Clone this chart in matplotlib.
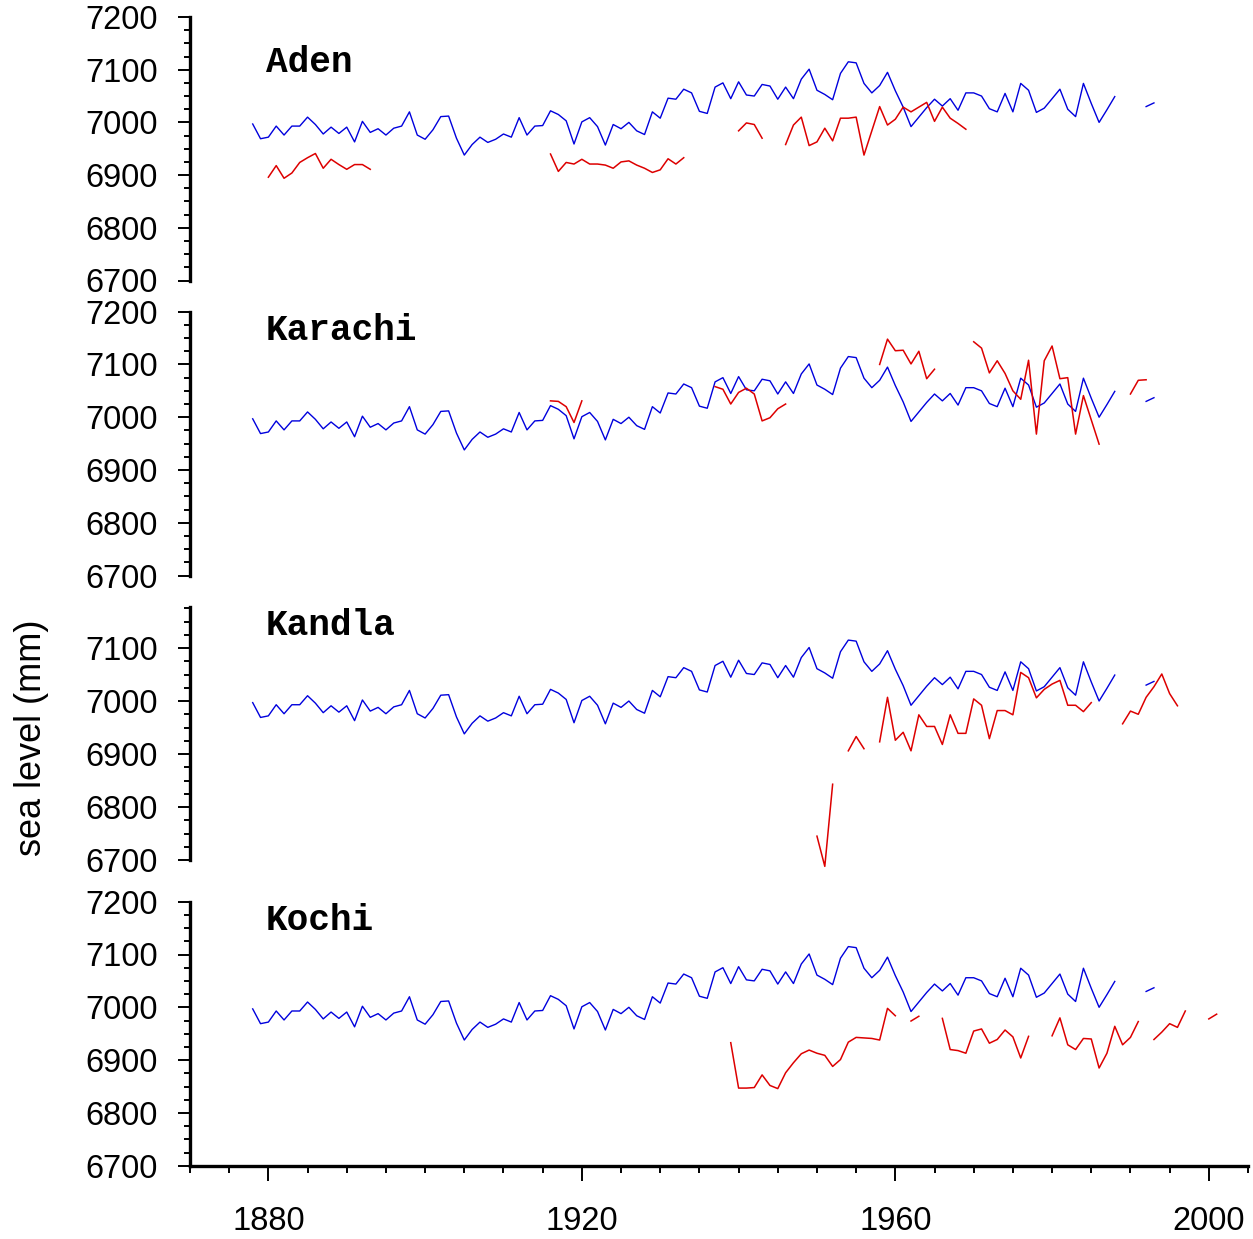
import numpy as np
import matplotlib.pyplot as plt
from matplotlib.ticker import MultipleLocator

plt.rcParams['font.family'] = ['Liberation Sans', 'DejaVu Sans']

# blue reference record, drawn in every panel: (first year, annual values in mm)
ref_segments = [
    (1878, [6997, 6969, 6972, 6993, 6976, 6993, 6993, 7010, 6996, 6978,
            6991, 6979, 6991, 6963, 7002, 6981, 6988, 6976, 6989, 6993,
            7020, 6976, 6968, 6986, 7011, 7012, 6970, 6938, 6958, 6972,
            6962, 6968, 6978, 6972, 7009, 6976, 6993, 6994, 7022, 7015,
            7003, 6959, 7001, 7009, 6992, 6957, 6996, 6988, 7000, 6984,
            6977, 7020, 7008, 7046, 7044, 7063, 7056, 7021, 7017, 7067,
            7075, 7045, 7077, 7052, 7050, 7072, 7069, 7044, 7067, 7045,
            7082, 7101, 7061, 7053, 7043, 7093, 7115, 7113, 7074, 7056,
            7070, 7095, 7060, 7029, 6992, 7010, 7028, 7044, 7031, 7045,
            7023, 7056, 7056, 7050, 7026, 7020, 7055, 7020, 7074, 7061,
            7019, 7027, 7045, 7063, 7025, 7011, 7074, 7036, 7000, 7024,
            7049]),
    (1992, [7030, 7037]),
]

# red station records
aden_segments = [
    (1880, [6896, 6918, 6894, 6904, 6924, 6933, 6941, 6913, 6930, 6920,
            6911, 6920, 6920, 6911]),
    (1916, [6940, 6907, 6924, 6921, 6930, 6921, 6921, 6919, 6913, 6925,
            6927, 6919, 6913, 6905, 6910, 6931, 6921, 6933]),
    (1940, [6984, 6999, 6996, 6970]),
    (1946, [6958, 6995, 7010, 6956, 6963, 6989, 6965, 7008, 7008, 7010,
            6938, 6984, 7030, 6995, 7006, 7029, 7020, 7029, 7038, 7002,
            7029, 7008, 6998, 6987]),
]

karachi_segments = [
    (1916, [7031, 7030, 7020, 6990, 7031]),
    (1937, [7058, 7053, 7025, 7047, 7055, 7044, 6993, 6999, 7016, 7025]),
    (1958, [7100, 7148, 7126, 7127, 7101, 7125, 7073, 7091]),
    (1970, [7143, 7131, 7084, 7107, 7083, 7050, 7034, 7108, 6968, 7107,
            7135, 7073, 7075, 6968, 7041, 6995, 6949]),
    (1990, [7044, 7070, 7071]),
]

kandla_segments = [
    (1950, [6745, 6688, 6843]),
    (1954, [6906, 6933, 6910]),
    (1958, [6923, 7007, 6926, 6941, 6906, 6974, 6952, 6952, 6918, 6974,
            6939, 6939, 7004, 6992, 6929, 6982, 6982, 6974, 7054, 7044,
            7006, 7022, 7032, 7039, 6992, 6992, 6980, 6997]),
    (1989, [6957, 6981, 6975, 7007, 7027, 7051, 7014, 6991]),
]

kochi_segments = [
    (1939, [6933, 6847, 6847, 6848, 6872, 6852, 6846, 6876, 6895, 6912,
            6919, 6913, 6909, 6888, 6901, 6934, 6943, 6942, 6941, 6938,
            6998, 6984]),
    (1962, [6974, 6983]),
    (1966, [6979, 6920, 6918, 6913, 6955, 6959, 6932, 6939, 6957, 6944,
            6904, 6945]),
    (1980, [6946, 6980, 6929, 6920, 6941, 6940, 6885, 6913, 6964, 6929,
            6943, 6973]),
    (1993, [6939, 6953, 6969, 6962, 6993]),
    (2000, [6978, 6987]),
]

stations = ['Aden', 'Karachi', 'Kandla', 'Kochi']
station_segments = [aden_segments, karachi_segments, kandla_segments, kochi_segments]
label_level = [7096, 7146, 7125, 7146]   # baseline of the station name
y_top = [7200, 7200, 7178, 7200]

W, H = 1253, 1239
# panel top / bottom in pixels
panel_px = [(17, 280.5), (311.7, 575.5), (606.7, 860), (901.7, 1165.7)]

fig = plt.figure(figsize=(W / 100, H / 100), dpi=100)

for i, name in enumerate(stations):
    top, bot = panel_px[i]
    ax = fig.add_axes([190 / W, 1 - bot / H, 1058 / W, (bot - top) / H])
    ax.set_xlim(1870, 2005)
    ax.set_ylim(6700, y_top[i])

    for start, vals in ref_segments:
        yrs = np.arange(start, start + len(vals))
        ax.plot(yrs, vals, color='#0000dd', lw=1.0)
    for start, vals in station_segments[i]:
        yrs = np.arange(start, start + len(vals))
        ax.plot(yrs, vals, color='#dd0000', lw=1.1, clip_on=False)

    ax.text(1879.7, label_level[i], name, family='Liberation Mono',
            weight='bold', fontsize=26, ha='left', va='baseline')

    for s in ['top', 'right']:
        ax.spines[s].set_visible(False)
    ax.spines['left'].set_linewidth(2.4)
    ax.spines['bottom'].set_linewidth(2.4)

    ax.yaxis.set_major_locator(MultipleLocator(100))
    ax.yaxis.set_minor_locator(MultipleLocator(25))
    ax.tick_params(axis='y', which='major', length=9, width=1.4, pad=14,
                   labelsize=23.5, direction='out')
    ax.tick_params(axis='y', which='minor', length=4.3, width=1.4, direction='out')

    if i < 3:
        ax.spines['bottom'].set_visible(False)
        ax.set_xticks([])
    else:
        ax.xaxis.set_major_locator(MultipleLocator(40))
        ax.xaxis.set_minor_locator(MultipleLocator(5))
        ax.tick_params(axis='x', which='major', length=10.8, width=1.4, pad=18,
                       labelsize=23.5, direction='out')
        ax.tick_params(axis='x', which='minor', length=5.3, width=1.4, direction='out')

fig.text(32 / W, 1 - 738 / H, 'sea level (mm)', rotation=90,
         ha='center', va='center', fontsize=26)

fig.savefig('out.png', dpi=100)
